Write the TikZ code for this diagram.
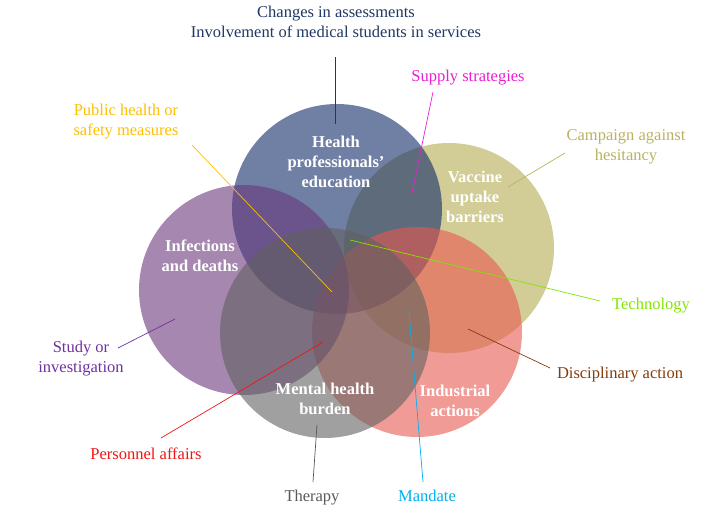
\documentclass[tikz,border=0pt]{standalone}
\usepackage{fontspec}
\setmainfont{Liberation Serif}
\begin{document}
\begin{tikzpicture}[x=1pt,y=-1pt,
  venn/.style={circle,minimum size=210pt,inner sep=0pt,fill opacity=0.6,draw=none},
  inlbl/.style={text=white,font=\fontsize{16.5}{20}\selectfont\bfseries,align=center,inner sep=0pt},
  outlbl/.style={font=\fontsize{16.5}{20}\selectfont,align=center,inner sep=0pt},
  lead/.style={line width=0.7pt}]
\definecolor{cblue}{RGB}{17,43,105}
\definecolor{cpurple}{RGB}{105,55,122}
\definecolor{colive}{RGB}{180,172,80}
\definecolor{csalmon}{RGB}{232,88,80}
\definecolor{cgray}{RGB}{97,97,97}
\definecolor{tnavy}{RGB}{31,56,100}
\definecolor{tmag}{RGB}{232,32,210}
\definecolor{tgold}{RGB}{255,192,0}
\definecolor{tolive}{RGB}{186,178,96}
\definecolor{tgreen}{RGB}{130,230,0}
\definecolor{tbrown}{RGB}{133,60,12}
\definecolor{tcyan}{RGB}{0,176,240}
\definecolor{tgray}{RGB}{89,89,89}
\definecolor{tred}{RGB}{240,20,20}
\definecolor{tpurple}{RGB}{112,48,160}
\useasboundingbox (0,0) rectangle (724,530);
% circles
\node[venn,fill=colive] (vac) at (449,248) {};
\node[venn,fill=cblue] (edu) at (337,209) {};
\node[venn,fill=csalmon] (ind) at (417,332) {};
\node[venn,fill=cpurple] (inf) at (244,290) {};
\node[venn,fill=cgray] (men) at (325,333) {};
% circle labels
\node[inlbl] (edulbl) at (336,162) {Health\\professionals’\\education};
\node[inlbl] (vaclbl) at (475,197) {Vaccine\\uptake\\barriers};
\node[inlbl] (inflbl) at (200,256) {Infections\\and deaths};
\node[inlbl] (menlbl) at (325,399) {Mental health\\burden};
\node[inlbl] (indlbl) at (455,401) {Industrial\\actions};
% outer labels
\node[outlbl,text=tnavy] (chg) at (336,22) {Changes in assessments\\Involvement of medical students in services};
\node[outlbl,text=tmag] (sup) at (468,78) {Supply strategies};
\node[outlbl,text=tgold] (pub) at (126,122) {Public health or\\safety measures};
\node[outlbl,text=tolive] (cam) at (626,147) {Campaign against\\hesitancy};
\node[outlbl,text=tgreen] (tec) at (651,306) {Technology};
\node[outlbl,text=tbrown] (dis) at (620,375) {Disciplinary action};
\node[outlbl,text=tcyan] (man) at (427,496) {Mandate};
\node[outlbl,text=tgray] (the) at (312,498) {Therapy};
\node[outlbl,text=tred] (per) at (146,454) {Personnel affairs};
\node[outlbl,text=tpurple] (stu) at (81,359) {Study or\\investigation};
% leader end points
\coordinate (chgA) at (335,57);   \coordinate (chgB) at (335,124);
\coordinate (supA) at (433,92);   \coordinate (supB) at (412,193);
\coordinate (pubA) at (192,145);  \coordinate (pubB) at (332,292);
\coordinate (camA) at (565,153);  \coordinate (camB) at (508,187);
\coordinate (tecA) at (600,301);  \coordinate (tecB) at (350,240);
\coordinate (disA) at (550,368);  \coordinate (disB) at (468,329);
\coordinate (manA) at (423,482);  \coordinate (manB) at (409,312);
\coordinate (theA) at (313,482);  \coordinate (theB) at (317,425);
\coordinate (perA) at (161,438);  \coordinate (perB) at (323,342);
\coordinate (stuA) at (118,348);  \coordinate (stuB) at (175,319);
\draw[lead,tnavy] (chgA) -- (chgB);
\draw[lead,tmag] (supA) -- (supB);
\draw[lead,tgold] (pubA) -- (pubB);
\draw[lead,tolive] (camA) -- (camB);
\draw[lead,tgreen] (tecA) -- (tecB);
\draw[lead,tbrown] (disA) -- (disB);
\draw[lead,tcyan] (manA) -- (manB);
\draw[lead,tgray] (theA) -- (theB);
\draw[lead,tred] (perA) -- (perB);
\draw[lead,tpurple] (stuA) -- (stuB);
\end{tikzpicture}
\end{document}
